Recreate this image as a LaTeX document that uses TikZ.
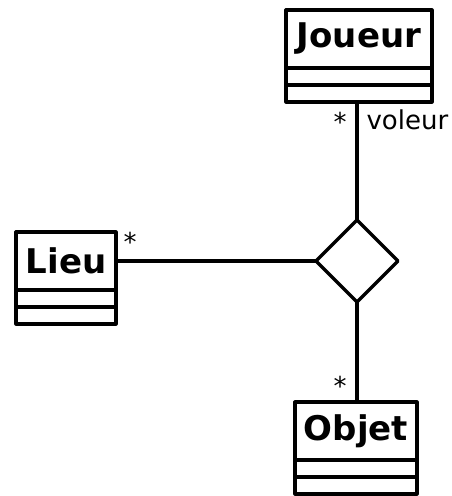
\documentclass[tikz,border=0pt]{standalone}
\usepackage{fontspec}
\setmainfont{DejaVu Sans}
\usetikzlibrary{positioning,shapes.geometric}

\tikzset{
  classe/.style={draw,fill=white,inner sep=0pt,outer sep=0pt,minimum height=58pt,
    font=\fontsize{34}{34}\bfseries\selectfont},
  compart/.style={draw,fill=white,inner sep=0pt,outer sep=0pt,minimum height=17pt},
  losange/.style={draw,fill=white,diamond,inner sep=0pt,outer sep=0pt,
    minimum width=82pt,minimum height=82pt},
  mult/.style={inner sep=0pt,font=\fontsize{26}{26}\selectfont},
}

\begin{document}
\begin{tikzpicture}[x=1pt,y=-1pt,line join=round,line width=3.2pt]
  \useasboundingbox (0,0) rectangle (452,496);

  % les trois classes
  \node[classe,minimum width=146pt] (joueur) at (359,39) {Joueur};
  \node[compart,minimum width=146pt,below=0pt of joueur] (joueur1) {};
  \node[compart,minimum width=146pt,below=0pt of joueur1] (joueur2) {};

  \node[classe,minimum width=100pt] (lieu) at (66,261) {Lieu};
  \node[compart,minimum width=100pt,below=0pt of lieu] (lieu1) {};
  \node[compart,minimum width=100pt,below=0pt of lieu1] (lieu2) {};

  \node[classe,minimum width=122pt] (objet) at (356,431) {Objet};
  \node[compart,minimum width=122pt,below=0pt of objet] (objet1) {};
  \node[compart,minimum width=122pt,below=0pt of objet1] (objet2) {};

  % association ternaire
  \node[losange] (assoc) at (357,261) {};
  \draw (assoc.north) -- (assoc.north |- joueur2.south);
  \draw (assoc.west) -- (assoc.west -| lieu.east);
  \draw (assoc.south) -- (assoc.south |- objet.north);

  % multiplicites et role
  \path (340,122) coordinate (mJ)
        (130,242) coordinate (mL)
        (340,386) coordinate (mO);
  \foreach \c in {mJ,mL,mO}
    \node[mult] (\c-etoile) at (\c) {*};
  \node[mult,anchor=base west] (role) at (365,129) {voleur};
\end{tikzpicture}
\end{document}
